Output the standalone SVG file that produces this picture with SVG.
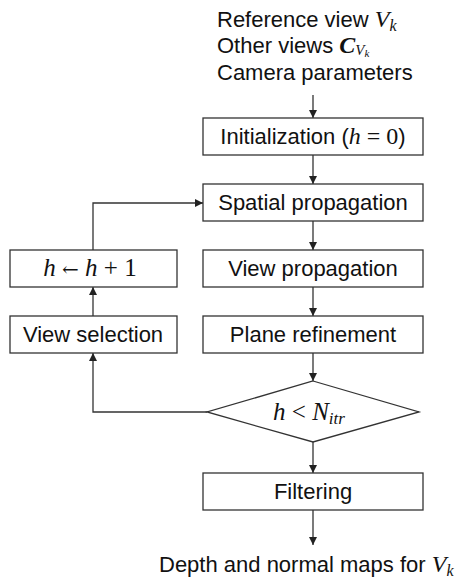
<svg xmlns="http://www.w3.org/2000/svg" width="465" height="582" viewBox="0 0 465 582">
  <style>
    .box { fill: #ffffff; stroke: #333333; stroke-width: 1.3; }
    .edge { fill: none; stroke: #333333; stroke-width: 1.3; }
    .txt { font-family: "Liberation Sans", Arial, sans-serif; font-size: 22px; fill: #111111; }
    .mi { font-family: "Liberation Serif", "Times New Roman", serif; font-style: italic; fill: #111111; }
    .mn { font-family: "Liberation Serif", "Times New Roman", serif; font-style: normal; fill: #111111; }
    .sub { font-size: 16px; }
  </style>
  <defs>
    <marker id="arrow" viewBox="0 0 10 10" refX="10" refY="5" markerWidth="8" markerHeight="8" markerUnits="userSpaceOnUse" orient="auto">
      <path d="M0,0 L10,5 L0,10 z" fill="#222222"/>
    </marker>
  </defs>

  <!-- inputs -->
  <g id="inputs">
    <text class="txt" x="217" y="27">Reference view <tspan class="mi" font-size="24">V</tspan><tspan class="mi sub" dy="4">k</tspan></text>
    <text class="txt" x="217" y="53">Other views <tspan class="mi" font-weight="bold" font-size="24">C</tspan><tspan class="mi" font-size="15" dy="2">V</tspan><tspan class="mi" font-size="11" dy="2">k</tspan></text>
    <text class="txt" x="217" y="80">Camera parameters</text>
  </g>

  <!-- connectors -->
  <g id="connectors">
    <line class="edge" x1="313" y1="95" x2="313" y2="118" marker-end="url(#arrow)"/>
    <line class="edge" x1="313" y1="155" x2="313" y2="184" marker-end="url(#arrow)"/>
    <line class="edge" x1="313" y1="221" x2="313" y2="250" marker-end="url(#arrow)"/>
    <line class="edge" x1="313" y1="287" x2="313" y2="316" marker-end="url(#arrow)"/>
    <line class="edge" x1="313" y1="353" x2="313" y2="381" marker-end="url(#arrow)"/>
    <line class="edge" x1="313" y1="442" x2="313" y2="473" marker-end="url(#arrow)"/>
    <line class="edge" x1="313" y1="510" x2="313" y2="545" marker-end="url(#arrow)"/>
    <polyline class="edge" points="207,412 93,412 93,353" marker-end="url(#arrow)"/>
    <line class="edge" x1="93" y1="316" x2="93" y2="287" marker-end="url(#arrow)"/>
    <polyline class="edge" points="93,250 93,203 203,203" marker-end="url(#arrow)"/>
  </g>

  <g id="init">
    <rect class="box" x="203" y="118" width="220" height="37"/>
    <text class="txt" x="313" y="144" text-anchor="middle" font-size="22.5">Initialization (<tspan class="mi" font-size="24">h</tspan><tspan class="mn" font-size="24"> = 0</tspan>)</text>
  </g>

  <g id="spatial">
    <rect class="box" x="203" y="184" width="220" height="37"/>
    <text class="txt" x="313" y="210" text-anchor="middle" font-size="22.5">Spatial propagation</text>
  </g>

  <g id="viewprop">
    <rect class="box" x="203" y="250" width="220" height="37"/>
    <text class="txt" x="313" y="276" text-anchor="middle" font-size="22.5">View propagation</text>
  </g>

  <g id="plane">
    <rect class="box" x="203" y="316" width="220" height="37"/>
    <text class="txt" x="313" y="342" text-anchor="middle" font-size="22.5">Plane refinement</text>
  </g>

  <g id="check">
    <polygon class="box" points="313,381 419,412 313,442 207,412"/>
    <text class="mi" x="309" y="420" text-anchor="middle" font-size="25">h <tspan class="mn">&lt;</tspan> N<tspan font-size="17" dy="4">itr</tspan></text>
  </g>

  <g id="filter">
    <rect class="box" x="203" y="473" width="220" height="37"/>
    <text class="txt" x="313" y="499" text-anchor="middle" font-size="22.5">Filtering</text>
  </g>

  <g id="output">
    <text class="txt" x="159" y="572">Depth and normal maps for <tspan class="mi" font-size="24">V</tspan><tspan class="mi sub" dy="4">k</tspan></text>
  </g>

  <g id="increment">
    <rect class="box" x="10" y="250" width="167" height="37"/>
    <text class="mi" x="90" y="276" text-anchor="middle" font-size="25">h <tspan font-family="'DejaVu Serif', serif" font-style="normal" font-size="20">←</tspan> h <tspan class="mn">+ 1</tspan></text>
  </g>

  <g id="viewsel">
    <rect class="box" x="10" y="316" width="167" height="37"/>
    <text class="txt" x="93" y="342" text-anchor="middle" font-size="22.5">View selection</text>
  </g>
</svg>
